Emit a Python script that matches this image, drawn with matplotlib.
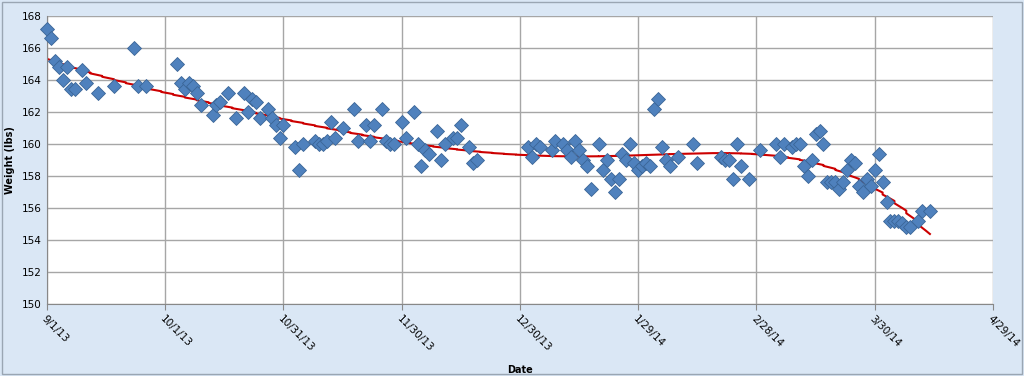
'''Daily weight log, Sep 2013 - Apr 2014, with a polynomial trend line.'''
import datetime
import numpy as np
import matplotlib
matplotlib.use("Agg")
import matplotlib.pyplot as plt
import matplotlib.dates as mdates
from matplotlib.patches import Rectangle

start = datetime.date(2013, 9, 1)

# days after 9/1/13 and the weight logged that day
days = [0, 1, 2, 3, 4, 5, 6, 7, 9, 10, 13, 17, 22, 23, 25,
        33, 34, 35, 36, 37, 38, 39, 42, 43, 44, 46, 48, 50, 51, 52,
        53, 54, 56, 57, 58, 59, 60, 63, 64, 65, 68, 69, 70, 71, 72,
        73, 75, 78, 79, 81, 82, 83, 85, 86, 87, 88, 90, 91, 93, 94,
        95, 96, 97, 99, 100, 101, 103, 104, 105, 107, 108, 109, 122, 123, 124,
        125, 128, 129, 131, 132, 133, 134, 135, 136, 137, 138, 140, 141, 142, 143,
        144, 145, 146, 147, 148, 149, 150, 151, 152, 153, 154, 155, 156, 157, 158,
        160, 164, 165, 171, 172, 173, 174, 175, 176, 178, 181, 185, 186, 187, 189,
        190, 191, 192, 193, 194, 195, 196, 197, 198, 199, 200, 201, 202, 203, 204,
        205, 206, 207, 208, 209, 210, 211, 212, 213, 214, 215, 216, 217, 218, 219,
        221, 222, 224]
weights = [167.2, 166.6, 165.2, 164.8, 164.0, 164.8, 163.4, 163.4, 164.6, 163.8, 163.2, 163.6, 166.0, 163.6, 163.6,
           165.0, 163.8, 163.4, 163.8, 163.6, 163.2, 162.4, 161.8, 162.4, 162.6, 163.2, 161.6, 163.2, 162.0, 162.8,
           162.6, 161.6, 162.2, 161.6, 161.2, 160.4, 161.2, 159.8, 158.4, 160.0, 160.2, 160.0, 160.0, 160.2, 161.4,
           160.4, 161.0, 162.2, 160.2, 161.2, 160.2, 161.2, 162.2, 160.2, 160.0, 160.0, 161.4, 160.4, 162.0, 160.0,
           158.6, 159.6, 159.4, 160.8, 159.0, 160.0, 160.4, 160.4, 161.2, 159.8, 158.8, 159.0, 159.8, 159.2, 160.0,
           159.8, 159.6, 160.2, 160.0, 159.6, 159.2, 160.2, 159.6, 159.0, 158.6, 157.2, 160.0, 158.4, 159.0, 157.8,
           157.0, 157.8, 159.4, 159.0, 160.0, 158.8, 158.4, 158.6, 158.8, 158.6, 162.2, 162.8, 159.8, 159.0, 158.6,
           159.2, 160.0, 158.8, 159.2, 159.0, 159.0, 157.8, 160.0, 158.6, 157.8, 159.6, 160.0, 159.2, 160.0, 159.8,
           160.0, 160.0, 158.6, 158.0, 159.0, 160.6, 160.8, 160.0, 157.6, 157.6, 157.6, 157.2, 157.6, 158.4, 159.0,
           158.8, 157.4, 157.0, 157.8, 157.4, 158.4, 159.4, 157.6, 156.4, 155.2, 155.2, 155.2, 155.1, 154.8, 154.8,
           155.2, 155.8, 155.8]

tick_labels = ["9/1/13", "10/1/13", "10/31/13", "11/30/13", "12/30/13",
               "1/29/14", "2/28/14", "3/30/14", "4/29/14"]


def plot_weight():
    dates = [start + datetime.timedelta(days=d) for d in days]

    fig = plt.figure(figsize=(10.24, 3.76), dpi=100)
    fig.patch.set_facecolor("#dae7f5")
    fig.patches.append(Rectangle((0.002, 0.004), 0.996, 0.992, transform=fig.transFigure,
                                 fill=False, edgecolor="#9aa6b3", linewidth=1))
    ax = fig.add_axes([0.0459, 0.1907, 0.9238, 0.7675])
    ax.set_facecolor("white")

    # polynomial trend line, the way the spreadsheet draws it
    coef = np.polyfit(days, weights, 5)
    xs = np.linspace(days[0], days[-1], 300)
    trend_dates = [start + datetime.timedelta(days=float(x)) for x in xs]
    ax.plot(trend_dates, np.polyval(coef, xs), color="#cc0000", linewidth=1.5, zorder=2)

    ax.plot(dates, weights, linestyle="none", marker="D", markersize=6.8,
            markerfacecolor="#4f81bd", markeredgecolor="#3a6597", markeredgewidth=0.6,
            zorder=3, clip_on=False)

    ticks = [start + datetime.timedelta(days=30 * i) for i in range(len(tick_labels))]
    ax.set_xticks([mdates.date2num(t) for t in ticks])
    ax.set_xticklabels(tick_labels, rotation=-45, ha="left", rotation_mode="anchor", fontsize=7.5)
    ax.set_xlim(mdates.date2num(ticks[0]), mdates.date2num(ticks[-1]))
    ax.set_ylim(150, 168)
    ax.set_yticks(range(150, 169, 2))
    ax.tick_params(axis="y", labelsize=7.5, length=0, pad=4)
    ax.tick_params(axis="x", length=4, color="#888888", pad=3)

    ax.grid(True, color="#a6a6a6", linewidth=1)
    ax.set_axisbelow(True)
    for side in ["top", "right"]:
        ax.spines[side].set_visible(False)
    ax.spines["left"].set_color("#888888")
    ax.spines["bottom"].set_color("#888888")

    ax.set_xlabel("Date", fontsize=7, fontweight="bold", labelpad=8)
    ax.set_ylabel("Weight (lbs)", fontsize=7, fontweight="bold", labelpad=5)
    fig.savefig("out.png", dpi=100, facecolor=fig.get_facecolor())


if __name__ == "__main__":
    assert len(days) == len(weights)
    plot_weight()
